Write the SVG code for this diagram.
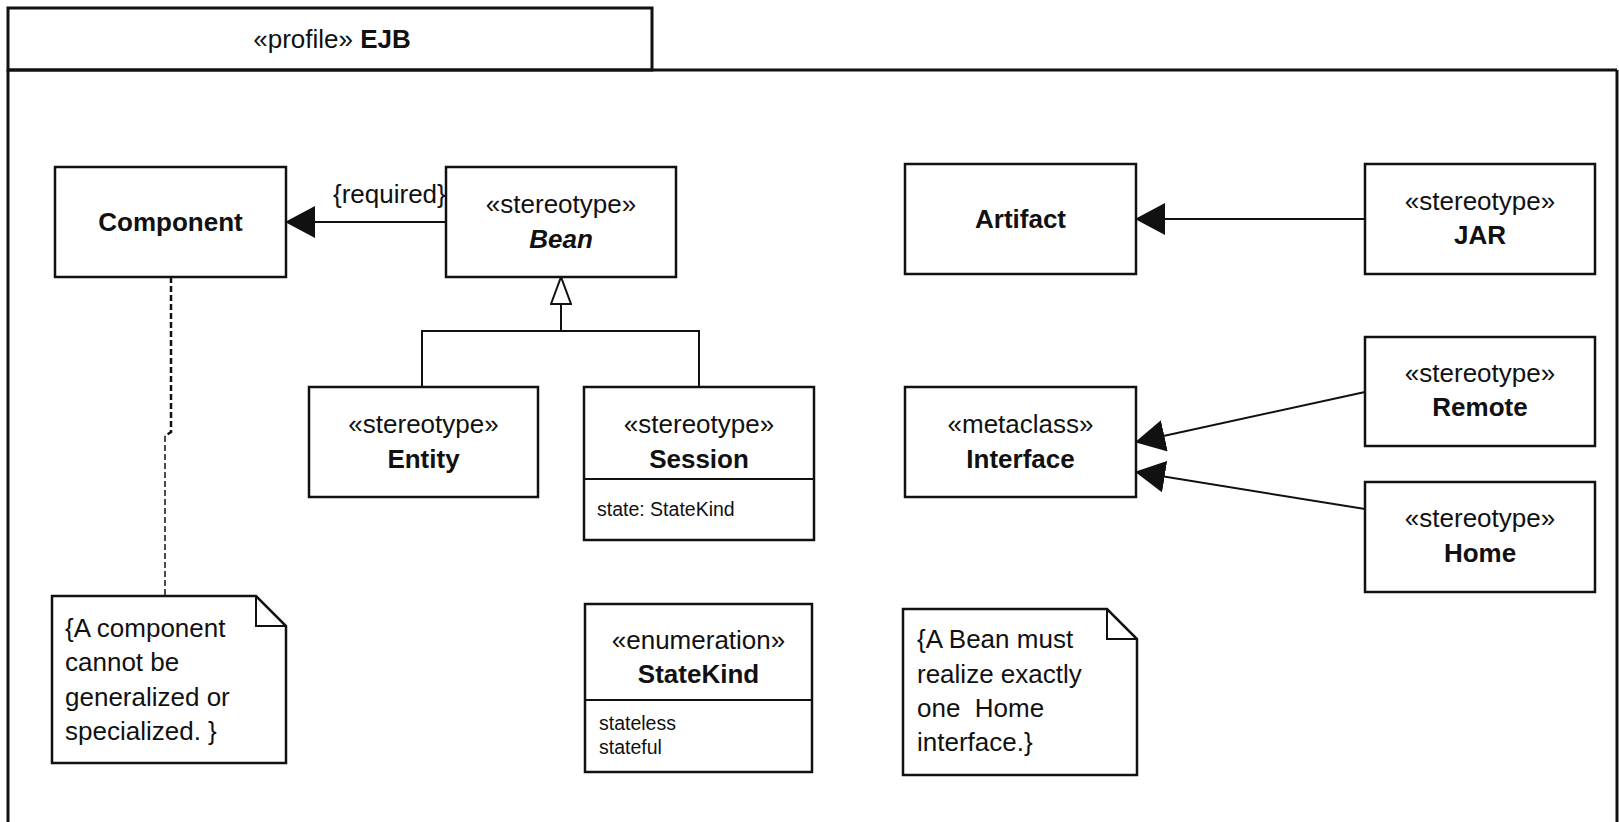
<svg xmlns="http://www.w3.org/2000/svg" width="1619" height="822" viewBox="0 0 1619 822">
<style>
text{font-family:"Liberation Sans",Arial,sans-serif;font-size:26px;fill:#111}
.c{text-anchor:middle}
.b{font-weight:bold}
.bi{font-weight:bold;font-style:italic}
.s{font-size:19.5px}
.box{fill:#fff;stroke:#111;stroke-width:2.5}
.ln{fill:none;stroke:#111;stroke-width:2}
.frame{fill:none;stroke:#111;stroke-width:3}
</style>
<defs>
<marker id="filled" viewBox="0 0 30 32" refX="29" refY="16" markerWidth="30" markerHeight="32" markerUnits="userSpaceOnUse" orient="auto">
<path d="M0,0 L30,16 L0,32 z" fill="#111"/>
</marker>
<marker id="hollow" viewBox="0 0 30 22" refX="28" refY="11" markerWidth="30" markerHeight="22" markerUnits="userSpaceOnUse" orient="auto">
<path d="M1,1 L28,11 L1,21 z" fill="#fff" stroke="#111" stroke-width="2"/>
</marker>
</defs>
<rect width="1619" height="822" fill="#fff"/>
<g id="frame">
<rect x="8" y="8" width="644" height="62" class="frame" fill="#fff"/>
<path d="M8,70 L1617,70 M8,70 L8,822 M1617,70 L1617,822" class="frame"/>
<text x="332" y="48" class="c">«profile» <tspan class="b">EJB</tspan></text>
</g>
<g id="connectors">
<line x1="446" y1="222" x2="286" y2="222" class="ln" marker-end="url(#filled)"/>
<text x="333" y="203">{required}</text>
<line x1="561" y1="331" x2="561" y2="277" class="ln" marker-end="url(#hollow)"/>
<polyline points="422,387 422,331 699,331 699,387" class="ln" stroke-width="2.5"/>
<line x1="1365" y1="219" x2="1136" y2="219" class="ln" marker-end="url(#filled)"/>
<line x1="1365" y1="392" x2="1136" y2="442" class="ln" stroke-width="2.5" marker-end="url(#filled)"/>
<line x1="1365" y1="509" x2="1136" y2="472" class="ln" stroke-width="2.5" marker-end="url(#filled)"/>
<path d="M171,277 L171,432 L165,436" fill="none" stroke="#111" stroke-width="2.5" stroke-dasharray="6,3"/>
<path d="M165,436 L165,596" fill="none" stroke="#111" stroke-width="1.5" stroke-dasharray="6,3"/>
</g>
<g id="component">
<rect x="55" y="167" width="231" height="110" class="box"/>
<text x="170.5" y="231" class="c b">Component</text>
</g>
<g id="bean">
<rect x="446" y="167" width="230" height="110" class="box"/>
<text x="561" y="213" class="c">«stereotype»</text>
<text x="561" y="248" class="c bi">Bean</text>
</g>
<g id="entity">
<rect x="309" y="387" width="229" height="110" class="box"/>
<text x="423.5" y="433" class="c">«stereotype»</text>
<text x="423.5" y="468" class="c b">Entity</text>
</g>
<g id="session">
<rect x="584" y="387" width="230" height="153" class="box"/>
<line x1="584" y1="479" x2="814" y2="479" class="ln" stroke-width="2.5"/>
<text x="699" y="433" class="c">«stereotype»</text>
<text x="699" y="468" class="c b">Session</text>
<text x="597" y="516" class="s">state: StateKind</text>
</g>
<g id="artifact">
<rect x="905" y="164" width="231" height="110" class="box"/>
<text x="1020.5" y="228" class="c b">Artifact</text>
</g>
<g id="jar">
<rect x="1365" y="164" width="230" height="110" class="box"/>
<text x="1480" y="210" class="c">«stereotype»</text>
<text x="1480" y="244" class="c b">JAR</text>
</g>
<g id="interface">
<rect x="905" y="387" width="231" height="110" class="box"/>
<text x="1020.5" y="433" class="c">«metaclass»</text>
<text x="1020.5" y="468" class="c b">Interface</text>
</g>
<g id="remote">
<rect x="1365" y="337" width="230" height="109" class="box"/>
<text x="1480" y="382" class="c">«stereotype»</text>
<text x="1480" y="416" class="c b">Remote</text>
</g>
<g id="home">
<rect x="1365" y="482" width="230" height="110" class="box"/>
<text x="1480" y="527" class="c">«stereotype»</text>
<text x="1480" y="562" class="c b">Home</text>
</g>
<g id="statekind">
<rect x="585" y="604" width="227" height="168" class="box"/>
<line x1="585" y1="700" x2="812" y2="700" class="ln" stroke-width="1.5"/>
<text x="698.5" y="649" class="c">«enumeration»</text>
<text x="698.5" y="683" class="c b">StateKind</text>
<text x="599" y="730" class="s">stateless</text>
<text x="599" y="754" class="s">stateful</text>
</g>
<g id="note-component">
<path d="M52,596 L256,596 L286,626 L286,763 L52,763 Z" class="box"/>
<path d="M256,596 L256,626 L286,626" class="ln" stroke-width="2.5"/>
<text x="65" y="637">{A component</text>
<text x="65" y="671">cannot be</text>
<text x="65" y="706">generalized or</text>
<text x="65" y="740">specialized. }</text>
</g>
<g id="note-bean">
<path d="M903,609 L1107,609 L1137,639 L1137,775 L903,775 Z" class="box"/>
<path d="M1107,609 L1107,639 L1137,639" class="ln" stroke-width="2.5"/>
<text x="917" y="648">{A Bean must</text>
<text x="917" y="683">realize exactly</text>
<text x="917" y="717">one&#160; Home</text>
<text x="917" y="751">interface.}</text>
</g>
</svg>
